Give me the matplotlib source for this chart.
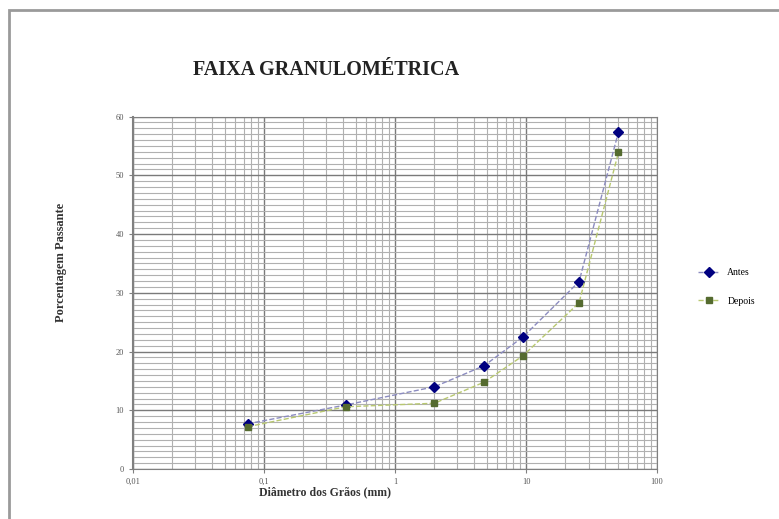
import matplotlib
matplotlib.use('Agg')
import matplotlib.pyplot as plt
from matplotlib.patches import Rectangle
from matplotlib.ticker import LogLocator, MultipleLocator, FixedLocator, FixedFormatter

# Peneiras (mm) e porcentagens
peneiras = [0.075, 0.42, 2.0, 4.8, 9.5, 25.4, 50.8]
antes = [7.7, 10.9, 14.0, 17.6, 22.5, 31.9, 57.4]
depois = [7.2, 10.6, 11.2, 14.8, 19.3, 28.3, 53.9]

x_ticks = [0.01, 0.1, 1, 10, 100]
x_labels = ['0,01', '0,1', '1', '10', '100']
y_ticks = [0, 10, 20, 30, 40, 50, 60]

serif = 'Liberation Serif'

fig = plt.figure(figsize=(7.79, 5.19), dpi=100)
fig.patches.append(Rectangle((0.012, -0.02), 1.0, 1.0, transform=fig.transFigure,
                             fill=False, edgecolor='#9a9a9a', linewidth=2))

ax = fig.add_axes([0.1707, 0.0963, 0.6727, 0.679])

ax.plot(peneiras, antes, color='#8c8cc0', linestyle='--', linewidth=1,
        marker='D', markersize=5, markerfacecolor='#000080', markeredgecolor='#000080',
        label='Antes')
ax.plot(peneiras, depois, color='#b8c870', linestyle='--', linewidth=1,
        marker='s', markersize=5, markerfacecolor='#556b2f', markeredgecolor='#556b2f',
        label='Depois')

ax.set_xscale('log')
ax.set_xlim(0.01, 100)
ax.set_ylim(0, 60)
ax.xaxis.set_major_locator(FixedLocator(x_ticks))
ax.xaxis.set_major_formatter(FixedFormatter(x_labels))
ax.xaxis.set_minor_locator(LogLocator(base=10, subs=range(2, 10)))
ax.xaxis.set_minor_formatter(FixedFormatter([]))
ax.yaxis.set_major_locator(FixedLocator(y_ticks))
ax.yaxis.set_minor_locator(MultipleLocator(1))

ax.grid(True, which='major', color='#7a7a7a', linewidth=1.0)
ax.grid(True, which='minor', color='#b0b0b0', linewidth=0.8)
ax.set_axisbelow(True)

for s in ax.spines.values():
    s.set_color('#808080')
ax.spines['left'].set_linewidth(1.5)
ax.tick_params(which='both', length=3, color='#808080', labelsize=6, labelcolor='#555555')
ax.tick_params(which='minor', length=0)
for t in ax.get_xticklabels() + ax.get_yticklabels():
    t.set_family(serif)

ax.set_xlabel('Diâmetro dos Grãos (mm)', family=serif, fontsize=8.5, fontweight='bold',
              color='#333333')
ax.set_ylabel('Porcentagem Passante', family=serif, fontsize=9, fontweight='bold',
              color='#333333')
ax.xaxis.set_label_coords(0.366, -0.048)
ax.yaxis.set_label_coords(-0.125, 0.585)

fig.text(0.418, 0.865, 'FAIXA GRANULOMÉTRICA', family=serif, fontsize=14.5,
         fontweight='bold', color='#222222', ha='center', va='center')

fig.legend(loc='upper left', bbox_to_anchor=(0.885, 0.5), frameon=False,
           prop={'family': serif, 'size': 7}, handlelength=2.2, labelspacing=2.0)

fig.savefig('out.png', dpi=100)
